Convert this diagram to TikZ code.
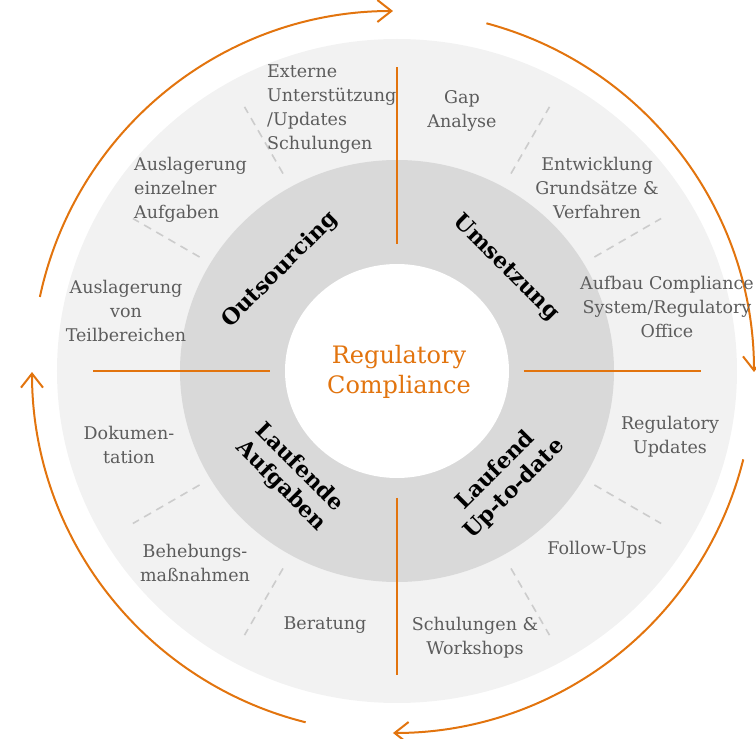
\documentclass[tikz,border=0pt]{standalone}
\usepackage{fontspec}
\setmainfont{DejaVu Serif}
\usetikzlibrary{arrows.meta}
\definecolor{accent}{RGB}{226,116,14}
\definecolor{ringlight}{RGB}{242,242,242}
\definecolor{ringdark}{RGB}{217,217,217}
\definecolor{itemgray}{RGB}{92,92,92}
\definecolor{dashgray}{RGB}{204,204,204}

\begin{document}
\begin{tikzpicture}[x=1pt, y=1pt,
    item/.style={text=itemgray, align=center, inner sep=0pt, font=\fontsize{17.5}{23.8}\selectfont},
    phase/.style={align=center, inner sep=0pt, font=\fontsize{22}{26}\selectfont\bfseries},
    cycle/.style={accent, line width=2pt, -{Straight Barb[length=14pt, width=22pt, line width=2pt]}}]
    \useasboundingbox (-397,-368) rectangle (359,371);
    \fill[ringlight] (0,0) ellipse [x radius=340, y radius=332];
    \fill[ringdark] (0,0) ellipse [x radius=217, y radius=211];
    \fill[white] (0,0) ellipse [x radius=112, y radius=107];
    \foreach \a in {30,60,120,150,210,240,300,330}
        \draw[dashgray, line width=1.6pt, dash pattern=on 8pt off 6pt] (\a:228) -- (\a:305);
    \foreach \a in {0,90,180,270}
        \draw[accent, line width=2pt] (\a:127) -- (\a:304);
    \draw[cycle] ([shift={(-4,-1)}]168:361) arc[start angle=168, end angle=90, radius=361];
    \draw[cycle] ([shift={(-4,-1)}]75:361) arc[start angle=75, end angle=0, radius=361];
    \draw[cycle] ([shift={(-4,-1)}]-14:361) arc[start angle=-14, end angle=-90, radius=361];
    \draw[cycle] ([shift={(-4,-1)}]-104:361) arc[start angle=-104, end angle=-180, radius=361];
    \node (core) at (2,-1) [text=accent, align=center, font=\fontsize{24}{30}\selectfont] {Regulatory\\Compliance};
    \node (outsourcing) at (-117,101) [phase, rotate=45] {Outsourcing};
    \node (umsetzung) at (109,103) [phase, rotate=-45] {Umsetzung};
    \node (aufgaben) at (-107,-106) [phase, rotate=-45] {Laufende\\Aufgaben};
    \node (uptodate) at (108,-109) [phase, rotate=45] {Laufend\\Up-to-date};
    \node (gap) at (65,260) [item] {Gap\\Analyse};
    \node (grundsaetze) at (200,183) [item] {Entwicklung\\Grundsätze \&\\Verfahren};
    \node (office) at (270,64) [item] {Aufbau Compliance\\System/Regulatory\\Office};
    \node (updates) at (273,-66) [item] {Regulatory\\Updates};
    \node (followups) at (200,-179) [item] {Follow-Ups};
    \node (workshops) at (78,-267) [item] {Schulungen \&\\Workshops};
    \node (beratung) at (-72,-254) [item] {Beratung};
    \node (massnahmen) at (-202,-192) [item] {Behebungs-\\maßnahmen};
    \node (doku) at (-268,-74) [item] {Dokumen-\\tation};
    \node (teilbereiche) at (-271,60) [item] {Auslagerung\\von\\Teilbereichen};
    \node (einzeln) at (-263,181) [item, anchor=west, align=left] {Auslagerung\\einzelner\\Aufgaben};
    \node (extern) at (-130,262) [item, anchor=west, align=left] {Externe\\Unterstützung\\/Updates\\Schulungen};
\end{tikzpicture}
\end{document}
